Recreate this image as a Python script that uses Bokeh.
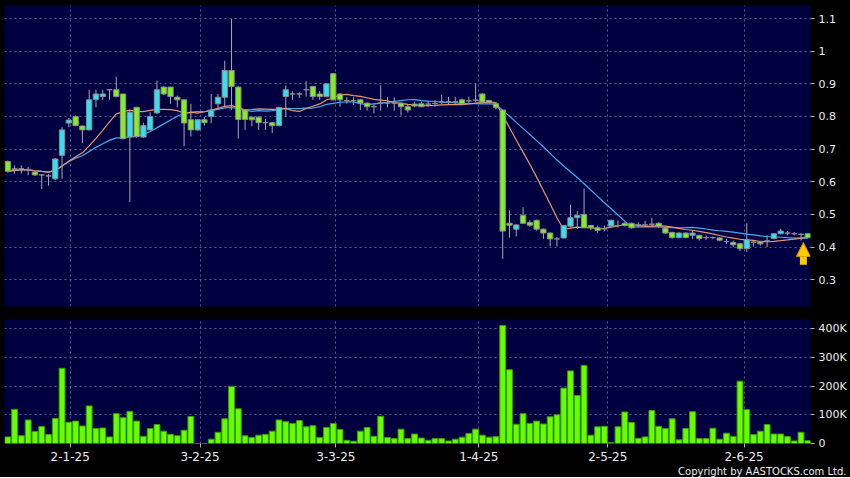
import numpy as np
import pandas as pd
from bokeh.plotting import figure
from bokeh.layouts import column
from bokeh.models import FixedTicker, Title, Arrow, NormalHead, ColumnDataSource, Range1d
from bokeh.embed import file_html
from bokeh.resources import INLINE

# ---------------- data ----------------
tick_labels = ["2-1-25", "3-2-25", "3-3-25", "1-4-25", "2-5-25", "2-6-25"]
tick_pos = [9.2, 28.35, 48.38, 69.48, 88.5, 108.6]
price_ticks = [0.3, 0.4, 0.5, 0.6, 0.7, 0.8, 0.9, 1.0, 1.1]
price_tick_labels = ["0.3", "0.4", "0.5", "0.6", "0.7", "0.8", "0.9", "1", "1.1"]
vol_ticks = [0, 100000, 200000, 300000, 400000]
vol_tick_labels = ["0", "100K", "200K", "300K", "400K"]

opens = [0.662, 0.640, 0.640, 0.638, 0.630, 0.621, 0.618, 0.609, 0.681, 0.780,
         0.800, 0.771, 0.759, 0.852, 0.861, 0.882, 0.882, 0.869, 0.737, 0.828,
         0.737, 0.759, 0.811, 0.890, 0.890, 0.859, 0.851, 0.790, 0.759, 0.790,
         0.800, 0.839, 0.859, 0.941, 0.890, 0.820, 0.798, 0.798, 0.781, 0.781,
         0.772, 0.861, 0.869, 0.869, 0.882, 0.892, 0.869, 0.861, 0.931, 0.869,
         0.849, 0.849, 0.851, 0.841, 0.830, 0.841, 0.841, 0.841, 0.841, 0.830,
         0.838, 0.839, 0.838, 0.840, 0.845, 0.845, 0.845, 0.851, 0.848, 0.850,
         0.869, 0.849, 0.839, 0.820, 0.473, 0.455, 0.497, 0.475, 0.482, 0.455,
         0.443, 0.425, 0.428, 0.464, 0.490, 0.500, 0.466, 0.459, 0.456, 0.464,
         0.466, 0.473, 0.473, 0.468, 0.468, 0.470, 0.473, 0.458, 0.445, 0.429,
         0.443, 0.436, 0.436, 0.429, 0.429, 0.428, 0.417, 0.414, 0.410, 0.395,
         0.415, 0.416, 0.419, 0.426, 0.441, 0.443, 0.441, 0.439, 0.441]
highs = [0.665, 0.650, 0.650, 0.645, 0.632, 0.624, 0.624, 0.672, 0.767, 0.795,
         0.803, 0.772, 0.882, 0.882, 0.882, 0.882, 0.922, 0.869, 0.820, 0.830,
         0.781, 0.813, 0.910, 0.892, 0.892, 0.864, 0.853, 0.839, 0.792, 0.798,
         0.869, 0.869, 0.971, 1.099, 0.892, 0.822, 0.800, 0.800, 0.793, 0.783,
         0.830, 0.895, 0.878, 0.875, 0.908, 0.894, 0.878, 0.902, 0.933, 0.871,
         0.859, 0.859, 0.853, 0.843, 0.841, 0.895, 0.859, 0.859, 0.843, 0.838,
         0.845, 0.845, 0.848, 0.850, 0.867, 0.860, 0.860, 0.855, 0.861, 0.900,
         0.871, 0.851, 0.841, 0.820, 0.512, 0.470, 0.522, 0.482, 0.484, 0.457,
         0.445, 0.430, 0.468, 0.530, 0.510, 0.579, 0.468, 0.466, 0.466, 0.484,
         0.482, 0.476, 0.475, 0.476, 0.480, 0.490, 0.476, 0.460, 0.447, 0.445,
         0.445, 0.452, 0.438, 0.436, 0.432, 0.430, 0.425, 0.420, 0.412, 0.473,
         0.422, 0.418, 0.436, 0.443, 0.456, 0.449, 0.446, 0.443, 0.443]
lows = [0.628, 0.625, 0.625, 0.620, 0.618, 0.578, 0.588, 0.605, 0.609, 0.767,
        0.770, 0.718, 0.757, 0.828, 0.851, 0.851, 0.859, 0.730, 0.538, 0.735,
        0.735, 0.757, 0.808, 0.866, 0.839, 0.828, 0.709, 0.739, 0.757, 0.772,
        0.779, 0.820, 0.830, 0.820, 0.732, 0.759, 0.770, 0.759, 0.759, 0.749,
        0.770, 0.798, 0.851, 0.857, 0.861, 0.851, 0.851, 0.859, 0.849, 0.830,
        0.839, 0.835, 0.820, 0.818, 0.810, 0.818, 0.828, 0.818, 0.803, 0.812,
        0.828, 0.828, 0.830, 0.830, 0.838, 0.838, 0.838, 0.835, 0.842, 0.845,
        0.840, 0.840, 0.822, 0.364, 0.429, 0.433, 0.470, 0.462, 0.450, 0.425,
        0.402, 0.402, 0.426, 0.462, 0.455, 0.458, 0.452, 0.444, 0.448, 0.462,
        0.460, 0.463, 0.457, 0.460, 0.462, 0.462, 0.458, 0.440, 0.426, 0.427,
        0.427, 0.425, 0.420, 0.422, 0.424, 0.418, 0.410, 0.400, 0.388, 0.385,
        0.402, 0.405, 0.400, 0.424, 0.439, 0.436, 0.436, 0.420, 0.427]
closes = [0.632, 0.638, 0.640, 0.638, 0.621, 0.621, 0.618, 0.670, 0.759, 0.789,
          0.772, 0.759, 0.851, 0.869, 0.869, 0.882, 0.861, 0.732, 0.813, 0.739,
          0.772, 0.800, 0.882, 0.869, 0.861, 0.851, 0.780, 0.759, 0.790, 0.781,
          0.820, 0.859, 0.941, 0.892, 0.791, 0.791, 0.790, 0.781, 0.781, 0.772,
          0.828, 0.882, 0.869, 0.869, 0.882, 0.861, 0.861, 0.900, 0.851, 0.851,
          0.849, 0.849, 0.841, 0.830, 0.830, 0.841, 0.841, 0.841, 0.830, 0.820,
          0.832, 0.830, 0.838, 0.840, 0.845, 0.845, 0.845, 0.839, 0.848, 0.850,
          0.844, 0.842, 0.828, 0.449, 0.467, 0.468, 0.473, 0.467, 0.455, 0.443,
          0.425, 0.425, 0.466, 0.490, 0.497, 0.459, 0.459, 0.451, 0.456, 0.482,
          0.466, 0.466, 0.459, 0.468, 0.468, 0.470, 0.463, 0.443, 0.429, 0.443,
          0.429, 0.443, 0.426, 0.429, 0.429, 0.421, 0.417, 0.407, 0.395, 0.423,
          0.415, 0.410, 0.419, 0.441, 0.449, 0.443, 0.441, 0.439, 0.429]
volumes_k = [23, 119, 27, 82, 42, 59, 31, 87, 262, 74,
             78, 61, 131, 52, 54, 23, 104, 90, 112, 78,
             25, 52, 66, 43, 32, 27, 46, 94, 0, 0,
             15, 39, 86, 199, 121, 27, 21, 29, 32, 43,
             82, 76, 70, 80, 58, 62, 21, 56, 70, 49,
             11, 8, 43, 56, 25, 95, 21, 17, 50, 17,
             33, 19, 11, 17, 17, 9, 15, 22, 35, 50,
             29, 22, 24, 411, 257, 67, 104, 70, 78, 68,
             93, 100, 193, 253, 167, 272, 29, 58, 60, 3,
             58, 110, 73, 18, 23, 115, 60, 52, 86, 13,
             52, 111, 17, 17, 53, 15, 36, 24, 217, 118,
             31, 43, 66, 33, 33, 24, 9, 39, 10]

# ---------------- derived ----------------
n = len(closes)
idx = np.arange(n)
o = np.array(opens); c = np.array(closes)
ma10 = pd.Series(closes).rolling(10, min_periods=1).mean().values
ma20 = pd.Series(closes).rolling(20, min_periods=1).mean().values

UP = "#33e0f0"
DOWN = "#80f020"
colors = [UP if cc > oo else (DOWN if cc < oo else None) for oo, cc in zip(o, c)]
src = ColumnDataSource(dict(
    x=idx, high=highs, low=lows,
    top=np.maximum(o, c), bottom=np.minimum(o, c), color=colors,
))
vsrc = ColumnDataSource(dict(x=idx, vol=np.array(volumes_k) * 1000))

BG = "#000040"
GRID = "#5a5a8e"
FW = 806
x_range = Range1d(-0.49, n - 1 + 0.4)


def style_axis(ax, size):
    ax.axis_line_color = None
    ax.major_tick_line_color = "#b0b0b0"
    ax.major_tick_in = 0
    ax.major_tick_out = 4
    ax.minor_tick_line_color = None
    ax.major_label_text_color = "#ececec"
    ax.major_label_text_font = "DejaVu Sans"
    ax.major_label_text_font_size = size
    ax.major_label_standoff = 4


def style_grid(g):
    g.grid_line_color = GRID
    g.grid_line_dash = "2 3"
    g.grid_line_width = 1


# ---------------- price panel ----------------
p1 = figure(frame_width=FW, frame_height=301, x_range=x_range,
            y_range=Range1d(0.218, 1.14), y_axis_location="right",
            output_backend="svg", toolbar_location=None,
            min_border_left=4, min_border_top=5, min_border_bottom=13,
            min_border_right=40, background_fill_color=BG,
            border_fill_color="black", outline_line_color=None)
p1.xaxis.visible = False
p1.xgrid.ticker = FixedTicker(ticks=tick_pos)
p1.yaxis.ticker = FixedTicker(ticks=price_ticks)
p1.ygrid.ticker = FixedTicker(ticks=price_ticks)
p1.yaxis.major_label_overrides = dict(zip(price_ticks, price_tick_labels))
style_axis(p1.yaxis[0], "11px")
style_grid(p1.xgrid[0]); style_grid(p1.ygrid[0])

p1.segment(x0="x", y0="low", x1="x", y1="high", line_color="#a8a8b0",
           line_width=1, source=src)
p1.line(idx, ma20, line_color="#45aaf0", line_width=1.2)
p1.line(idx, ma10, line_color="#e8956b", line_width=1.2)
p1.vbar(x="x", top="top", bottom="bottom", width=0.78, fill_color="color",
        line_color="#8c8c8c", line_width=1, source=src)

arrow_x = n - 1 - 0.65
arrow_tip = lows[-1] - 0.013
p1.add_layout(Arrow(end=NormalHead(size=14, fill_color="#ffcc00", line_color="#d08a00"),
                    x_start=arrow_x, y_start=arrow_tip - 0.068,
                    x_end=arrow_x, y_end=arrow_tip,
                    line_color="#ffc800", line_width=7))

# ---------------- volume panel ----------------
p2 = figure(frame_width=FW, frame_height=124, x_range=x_range,
            y_range=Range1d(0, 432000), y_axis_location="right",
            output_backend="svg", toolbar_location=None,
            min_border_left=4, min_border_top=0, min_border_bottom=34,
            min_border_right=40, background_fill_color=BG,
            border_fill_color="black", outline_line_color=None)
p2.xaxis.ticker = FixedTicker(ticks=tick_pos)
p2.xaxis.major_label_overrides = dict(zip(tick_pos, tick_labels))
p2.yaxis.ticker = FixedTicker(ticks=vol_ticks)
p2.yaxis.major_label_overrides = dict(zip(vol_ticks, vol_tick_labels))
style_axis(p2.xaxis[0], "12px")
style_axis(p2.yaxis[0], "11px")
style_grid(p2.xgrid[0]); style_grid(p2.ygrid[0])

p2.vbar(x="x", top="vol", bottom=0, width=0.86, fill_color="#66ff00",
        line_color="#3c9c00", line_width=1, source=vsrc)

p2.add_layout(Title(text="Copyright by AASTOCKS.com Ltd.", align="right",
                    offset=-36, standoff=0, text_color="#ececec",
                    text_font="DejaVu Sans", text_font_size="10px",
                    text_font_style="normal"), "below")

layout = column(p1, p2, spacing=0)
layout.styles = {"background-color": "black"}
open("out.html", "w").write(file_html(layout, INLINE))
